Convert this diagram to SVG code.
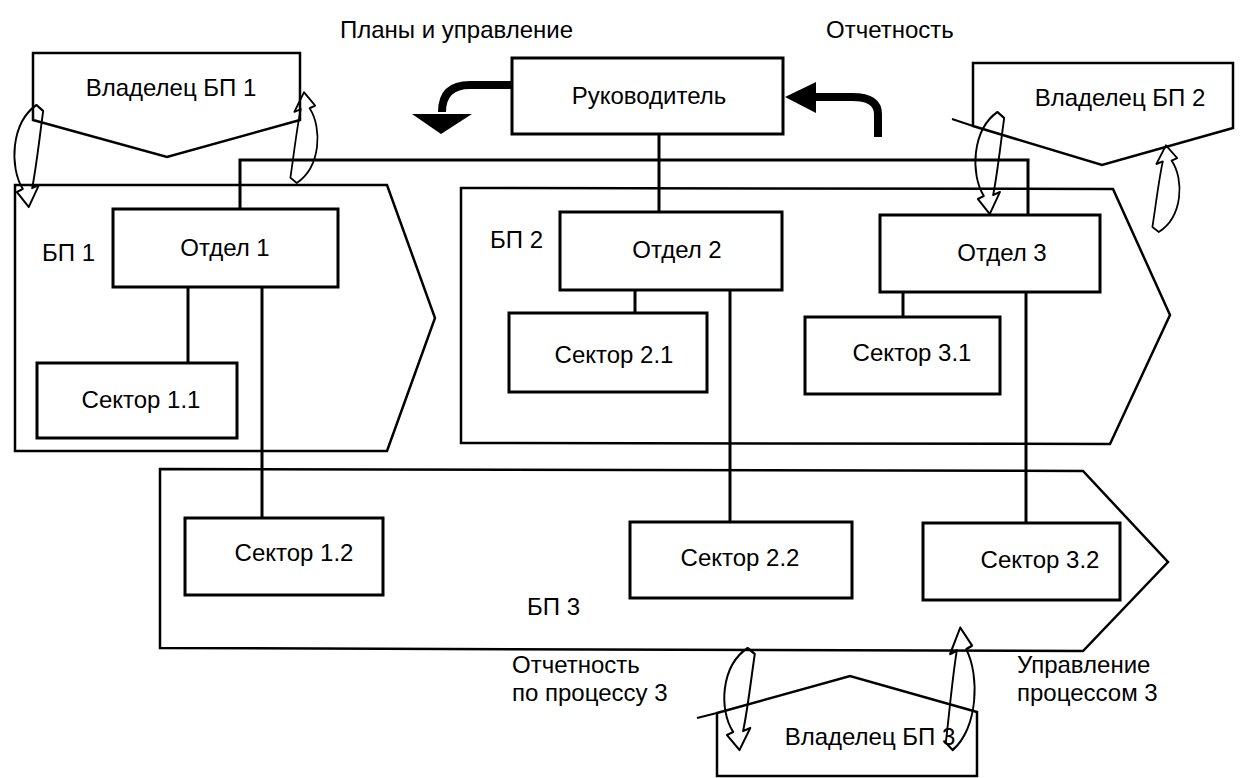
<svg xmlns="http://www.w3.org/2000/svg" width="1243" height="778" viewBox="0 0 1243 778">
<style>
  .bg{fill:#fff}
  .shape{fill:#fff;stroke:#000;stroke-width:2.5;stroke-linejoin:miter}
  .box{fill:#fff;stroke:#000;stroke-width:3}
  .line{fill:none;stroke:#000;stroke-width:3}
  .thin{fill:none;stroke:#000;stroke-width:2}
  .loop{fill:none;stroke:#000;stroke-width:2.2;stroke-linejoin:round}
  .thick{fill:none;stroke:#000;stroke-width:8}
  .head{fill:#000}
  text{font-family:"Liberation Sans",Arial,sans-serif;font-size:24px;fill:#000}
  .c{text-anchor:middle}
</style>
<defs>
  <path id="loop" d="M24,0 C-6,18 -8,62 8,84 L1,87 L15,102 L27,80 L19,83 C24,62 28,30 32,6 Z"/>
</defs>
<rect class="bg" x="0" y="0" width="1243" height="778"/>

<g id="labels">
  <text x="340" y="38">Планы и управление</text>
  <text x="826" y="38">Отчетность</text>
  <text x="512" y="673">Отчетность</text>
  <text x="512" y="701">по процессу 3</text>
  <text x="1017" y="673">Управление</text>
  <text x="1017" y="701">процессом 3</text>
</g>

<g id="bp1">
  <polygon class="shape" points="15,185 387,185 435,318 387,451 15,451"/>
  <text x="42" y="261">БП 1</text>
</g>
<g id="bp2">
  <polygon class="shape" points="461,188 1113,189 1170,315 1110,444 461,443"/>
  <text x="490" y="248">БП 2</text>
</g>
<g id="bp3">
  <polygon class="shape" points="160,469 1083,471 1168,562 1083,651 160,648"/>
  <text x="527" y="615">БП 3</text>
</g>

<g id="owner1">
  <polygon class="shape" points="33,53 300,53 300,120 167,157 33,120"/>
  <text class="c" x="171" y="96">Владелец БП 1</text>
</g>
<g id="owner2">
  <polygon class="shape" points="973,63 1233,63 1233,128 1102,165 973,126"/>
  <line class="thin" x1="952" y1="119" x2="973" y2="126"/>
  <text class="c" x="1120" y="106">Владелец БП 2</text>
</g>
<g id="owner3">
  <polygon class="shape" points="717,713 850,676 977,712 977,776 717,776"/>
  <line class="thin" x1="697" y1="718" x2="717" y2="713"/>
  <text class="c" x="870" y="745">Владелец БП 3</text>
</g>

<g id="connectors">
  <polyline class="line" points="240,209 240,160 1028,160 1028,215"/>
  <line class="line" x1="659" y1="133" x2="659" y2="212"/>
  <line class="line" x1="188" y1="286" x2="188" y2="363"/>
  <line class="line" x1="262" y1="286" x2="262" y2="518"/>
  <line class="line" x1="635" y1="290" x2="635" y2="313"/>
  <line class="line" x1="730" y1="290" x2="730" y2="522"/>
  <line class="line" x1="903" y1="292" x2="903" y2="317"/>
  <line class="line" x1="1026" y1="292" x2="1026" y2="523"/>
  <path class="thick" d="M512,85 L470,85 Q442,85 442,112"/>
  <polygon class="head" points="412,114 472,114 441,134"/>
  <path class="thick" d="M878,137 L878,114 Q878,97 852,97 L814,97"/>
  <polygon class="head" points="816,82 816,113 785,97"/>
  <use class="loop" href="#loop" transform="translate(16,105) scale(0.85,1.0)"/>
  <use class="loop" href="#loop" transform="translate(316,183) scale(-0.8,-0.89)"/>
  <use class="loop" href="#loop" transform="translate(977,112) scale(0.85,1.0)"/>
  <use class="loop" href="#loop" transform="translate(1178,232) scale(-0.8,-0.85)"/>
  <use class="loop" href="#loop" transform="translate(726,648) scale(0.9,1.0)"/>
  <use class="loop" href="#loop" transform="translate(973,750) scale(-0.85,-1.2)"/>
</g>

<g id="rukovoditel">
  <rect class="box" x="512" y="58" width="271" height="76"/>
  <text class="c" x="649" y="104">Руководитель</text>
</g>
<g id="otdel1">
  <rect class="box" x="113" y="209" width="225" height="78"/>
  <text class="c" x="225" y="256">Отдел 1</text>
</g>
<g id="otdel2">
  <rect class="box" x="560" y="212" width="222" height="78"/>
  <text class="c" x="677" y="258">Отдел 2</text>
</g>
<g id="otdel3">
  <rect class="box" x="880" y="215" width="220" height="77"/>
  <text class="c" x="1002" y="261">Отдел 3</text>
</g>
<g id="sektor11">
  <rect class="box" x="37" y="363" width="200" height="75"/>
  <text class="c" x="141" y="408">Сектор 1.1</text>
</g>
<g id="sektor21">
  <rect class="box" x="509" y="313" width="198" height="79"/>
  <text class="c" x="614" y="363">Сектор 2.1</text>
</g>
<g id="sektor31">
  <rect class="box" x="805" y="317" width="195" height="77"/>
  <text class="c" x="912" y="361">Сектор 3.1</text>
</g>
<g id="sektor12">
  <rect class="box" x="185" y="518" width="198" height="77"/>
  <text class="c" x="294" y="561">Сектор 1.2</text>
</g>
<g id="sektor22">
  <rect class="box" x="630" y="522" width="222" height="76"/>
  <text class="c" x="740" y="566">Сектор 2.2</text>
</g>
<g id="sektor32">
  <rect class="box" x="923" y="523" width="197" height="77"/>
  <text class="c" x="1040" y="568">Сектор 3.2</text>
</g>
</svg>
